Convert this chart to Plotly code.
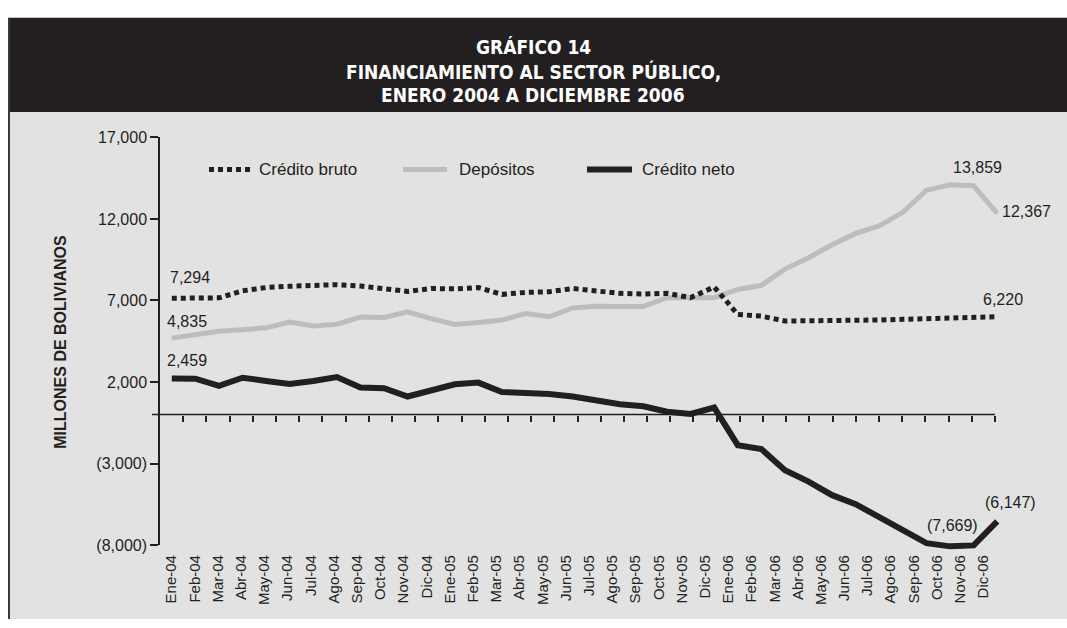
import plotly.graph_objects as go

# ---------------- data ----------------
months = ["Ene-04", "Feb-04", "Mar-04", "Abr-04", "May-04", "Jun-04", "Jul-04", "Ago-04",
          "Sep-04", "Oct-04", "Nov-04", "Dic-04",
          "Ene-05", "Feb-05", "Mar-05", "Abr-05", "May-05", "Jun-05", "Jul-05", "Ago-05",
          "Sep-05", "Oct-05", "Nov-05", "Dic-05",
          "Ene-06", "Feb-06", "Mar-06", "Abr-06", "May-06", "Jun-06", "Jul-06", "Ago-06",
          "Sep-06", "Oct-06", "Nov-06", "Dic-06"]

credito_bruto = [7136, 7136, 7160, 7590, 7793, 7871, 7912, 7970, 7890, 7690, 7554, 7733,
                 7713, 7793, 7375, 7494, 7534, 7733, 7594, 7435, 7393, 7435, 7173, 7830,
                 6140, 6040, 5740, 5740, 5764, 5784, 5804, 5844, 5884, 5923, 5963, 6003]

depositos = [4690, 4887, 5107, 5203, 5323, 5681, 5442, 5543, 5980, 5960, 6301, 5883,
             5525, 5645, 5800, 6200, 6003, 6540, 6640, 6636, 6636, 7173, 7193, 7173,
             7674, 7930, 8925, 9620, 10418, 11111, 11570, 12405, 13760, 14094, 14034, 12346]

credito_neto = [2220, 2202, 1766, 2262, 2064, 1885, 2064, 2302, 1665, 1623, 1110, 1504,
                1862, 1963, 1385, 1325, 1266, 1110, 871, 632, 513, 173, 37, 430,
                -1873, -2112, -3407, -4105, -4940, -5496, -6290, -7089, -7883, -8080, -8020, -6551]

series_names = ["Crédito bruto", "Depósitos", "Crédito neto"]

y_tickvals = [-8000, -3000, 2000, 7000, 12000, 17000]
y_ticktext = ["(8,000)", "(3,000)", "2,000", "7,000", "12,000", "17,000"]

title_lines = ["GRÁFICO 14", "FINANCIAMIENTO AL SECTOR PÚBLICO,", "ENERO 2004 A DICIEMBRE 2006"]
y_title = "MILLONES DE BOLIVIANOS"

# point labels: (series, month index, text)
point_labels = [
    ("bruto", 0, "7,294"), ("bruto", 35, "6,220"),
    ("dep", 0, "4,835"), ("dep", 34, "13,859"), ("dep", 35, "12,367"),
    ("neto", 0, "2,459"), ("neto", 33, "(7,669)"), ("neto", 35, "(6,147)"),
]

# ---------------- styling / layout geometry ----------------
W, H = 1067, 628
INK = "#231f20"
GRAY_LINE = "#bdbdc1"
BG = "#e2e2e2"
FONT = "Liberation Sans, Arial, sans-serif"
TITLE_FONT = "Liberation Sans Narrow, DejaVu Sans Condensed, Liberation Sans, sans-serif"

PLOT_L, PLOT_R, PLOT_T, PLOT_B = 160, 995, 133, 552
LINE_R = 1009
Y_MIN, Y_MAX = -8000, 17000
Y_PAD = 500


def fx(px):
    return px / W


def fy(py):
    return 1 - py / H


n = len(months)
idx = list(range(n))
upx = (PLOT_B - PLOT_T) / (Y_MAX - Y_MIN)
zero_pos = fy(PLOT_B) + (0 - Y_MIN) / (Y_MAX - Y_MIN) * (fy(PLOT_T) - fy(PLOT_B))

fig = go.Figure()

series = {
    "dep": dict(y=depositos, name=series_names[1], line=dict(color=GRAY_LINE, width=5)),
    "bruto": dict(y=credito_bruto, name=series_names[0], line=dict(color=INK, width=5, dash="5px,4px")),
    "neto": dict(y=credito_neto, name=series_names[2], line=dict(color=INK, width=6)),
}
for key in ["dep", "bruto", "neto"]:
    s = series[key]
    fig.add_trace(go.Scatter(x=idx, y=s["y"], name=s["name"], mode="lines", line=s["line"],
                             xaxis="x3", yaxis="y3", showlegend=False, hoverinfo="x+y"))

# dummy traces so the label axis and the tick-only axis are drawn
fig.add_trace(go.Scatter(x=[0], y=[None], xaxis="x2", yaxis="y", showlegend=False, hoverinfo="skip"))
fig.add_trace(go.Scatter(x=[0], y=[None], xaxis="x", yaxis="y", showlegend=False, hoverinfo="skip"))

shapes = [
    dict(type="rect", xref="paper", yref="paper", x0=fx(9), x1=1, y0=0, y1=fy(107),
         fillcolor=BG, line=dict(width=0), layer="below"),
    dict(type="rect", xref="paper", yref="paper", x0=fx(9), x1=1, y0=fy(107), y1=fy(10),
         fillcolor=INK, line=dict(width=0), layer="below"),
    dict(type="line", xref="paper", yref="paper", x0=fx(9), x1=fx(9), y0=0, y1=fy(10),
         line=dict(color="#3a3a3a", width=2)),
    dict(type="line", xref="x domain", yref="y", x0=-8 / (PLOT_R - PLOT_L), x1=1, y0=0, y1=0,
         line=dict(color=INK, width=1.5)),
]

# custom legend
legend_items = [
    (209, 250, 257, series["bruto"]["line"], series_names[0]),
    (403, 447, 457, series["dep"]["line"], series_names[1]),
    (587, 632, 640, series["neto"]["line"], series_names[2]),
]
LEG_Y = 166
annotations = []
for x0, x1, tx, ln, name in legend_items:
    shapes.append(dict(type="line", xref="paper", yref="paper", x0=fx(x0), x1=fx(x1),
                       y0=fy(LEG_Y), y1=fy(LEG_Y), line=ln))
    annotations.append(dict(xref="paper", yref="paper", x=fx(tx), y=fy(LEG_Y), text=name,
                            showarrow=False, xanchor="left", yanchor="middle",
                            font=dict(family=FONT, size=17, color=INK)))

# title
for t, py in zip(title_lines, [40, 65, 89]):
    annotations.append(dict(xref="paper", yref="paper", x=fx(533), y=fy(py), text="<b>%s</b>" % t,
                            showarrow=False, xanchor="center", yanchor="middle",
                            font=dict(family=TITLE_FONT, size=19, color="white")))

annotations.append(dict(xref="paper", yref="paper", x=fx(61), y=fy(343), text="<b>%s</b>" % y_title,
                        showarrow=False, textangle=-90, xanchor="center", yanchor="middle",
                        font=dict(family=FONT, size=16, color=INK)))

offsets = {
    ("bruto", 0): (18, 21, "center"), ("bruto", 35): (6, 17, "center"),
    ("dep", 0): (15, 17, "center"), ("dep", 34): (4, 18, "center"), ("dep", 35): (3, 2, "left"),
    ("neto", 0): (15, 18, "center"), ("neto", 33): (2, 21, "center"), ("neto", 35): (13, 19, "center"),
}
for key, i, txt in point_labels:
    dx, dy, anc = offsets[(key, i)]
    annotations.append(dict(xref="x3", yref="y3", x=i, y=series[key]["y"][i], text=txt,
                            showarrow=False, xanchor=anc, yanchor="middle", xshift=dx, yshift=dy,
                            font=dict(family=FONT, size=16, color=INK)))

fig.update_layout(
    width=W, height=H,
    margin=dict(l=0, r=0, t=0, b=0),
    paper_bgcolor="white",
    plot_bgcolor="rgba(0,0,0,0)",
    showlegend=False,
    font=dict(family=FONT, color=INK),
    xaxis=dict(domain=[fx(PLOT_L), fx(PLOT_R)], range=[-0.5, n - 0.5], tickmode="array",
               tickvals=idx, ticktext=months, tickangle=-90, ticks="", showgrid=False,
               zeroline=False, showline=False, anchor="y", ticklabelstandoff=6,
               tickfont=dict(family=FONT, size=15, color=INK)),
    yaxis=dict(domain=[fy(PLOT_B), fy(PLOT_T)], range=[Y_MIN, Y_MAX], tickmode="array",
               tickvals=y_tickvals, ticktext=y_ticktext, ticks="outside", ticklen=8,
               tickwidth=1.5, tickcolor=INK, showline=True, linewidth=1.5, linecolor=INK,
               showgrid=False, zeroline=False, anchor="x",
               tickfont=dict(family=FONT, size=16, color=INK)),
    xaxis2=dict(overlaying="x", anchor="free", position=zero_pos, range=[-0.5, n - 0.5],
                tickmode="array", tickvals=[i + 0.5 for i in idx],
                ticks="outside", ticklen=6, tickwidth=1.5, tickcolor=INK,
                showticklabels=False, showline=False, showgrid=False, zeroline=False, side="bottom"),
    xaxis3=dict(domain=[fx(PLOT_L), fx(LINE_R)], range=[-0.5, n - 0.5], visible=False, anchor="y3"),
    yaxis3=dict(domain=[fy(PLOT_B + Y_PAD * upx), fy(PLOT_T)], range=[Y_MIN - Y_PAD, Y_MAX],
                visible=False, anchor="x3"),
    shapes=shapes,
    annotations=annotations,
)

fig.write_html("out.html",
               config={"displayModeBar": False},
               post_script="document.documentElement.style.margin='0';"
                           "document.body.style.margin='0';document.body.style.overflow='hidden';")
